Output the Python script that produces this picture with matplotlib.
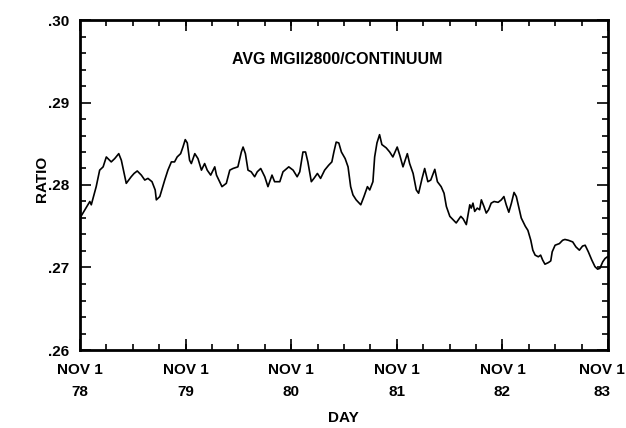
import numpy as np
import matplotlib
matplotlib.use('Agg')
import matplotlib.pyplot as plt
from matplotlib.ticker import FixedLocator
from matplotlib.transforms import ScaledTranslation

# days since 1 Nov 1978
days = [0, 34, 39, 56, 68, 80, 91, 108, 120, 134, 143, 160, 177, 187, 198, 212,
        224, 235, 249, 260, 264, 276, 293, 304, 316, 327, 336, 348, 356, 364, 371,
        379, 385, 397, 408, 420, 431, 440, 452, 466, 472, 483, 491, 506, 518, 529,
        546, 558, 564, 572, 581, 592, 604, 613, 625, 639, 650, 664, 673, 691, 702,
        722, 737, 751, 760, 771, 780, 788, 800, 809, 821, 832, 846, 860, 871, 878,
        886, 895, 904, 917, 927, 936, 944, 955, 971, 982, 994, 1002, 1013, 1019,
        1027, 1036, 1044, 1059, 1071, 1082, 1097, 1106, 1117, 1132, 1140, 1152,
        1163, 1171, 1183, 1192, 1203, 1213, 1227, 1236, 1249, 1259, 1267, 1279,
        1290, 1301, 1317, 1325, 1336, 1348, 1353, 1359, 1365, 1374, 1382, 1388,
        1397, 1405, 1413, 1422, 1432, 1446, 1457, 1466, 1474, 1483, 1492, 1501,
        1509, 1517, 1526, 1540, 1549, 1559, 1566, 1574, 1585, 1593, 1600, 1608,
        1620, 1628, 1633, 1643, 1658, 1669, 1677, 1689, 1704, 1715, 1727, 1738,
        1747, 1758, 1770, 1781, 1790, 1798, 1808, 1816, 1824]

ratio = [.2760, .2780, .2776, .2798, .2818, .2822, .2834, .2828, .2832, .2838,
         .2830, .2802, .2810, .2814, .2817, .2812, .2806, .2808, .2804, .2794,
         .2782, .2786, .2806, .2818, .2828, .2828, .2834, .2838, .2846, .2855,
         .2851, .2830, .2826, .2838, .2832, .2818, .2826, .2818, .2812, .2822,
         .2812, .2804, .2798, .2802, .2818, .2820, .2822, .2840, .2846, .2838,
         .2818, .2816, .2810, .2816, .2820, .2810, .2798, .2812, .2804, .2804,
         .2816, .2822, .2818, .2810, .2816, .2840, .2840, .2828, .2804, .2808,
         .2814, .2808, .2818, .2824, .2828, .2840, .2852, .2851, .2840, .2832,
         .2822, .2798, .2788, .2782, .2776, .2786, .2798, .2794, .2804, .2834,
         .2851, .2861, .2849, .2845, .2840, .2834, .2846, .2836, .2822, .2838,
         .2826, .2814, .2794, .2790, .2808, .2820, .2804, .2806, .2819, .2804,
         .2798, .2790, .2774, .2762, .2758, .2754, .2762, .2759, .2752, .2776,
         .2772, .2778, .2768, .2772, .2770, .2782, .2774, .2766, .2770, .2778,
         .2780, .2779, .2782, .2786, .2776, .2767, .2778, .2791, .2786, .2774,
         .2760, .2750, .2745, .2733, .2721, .2715, .2713, .2715, .2709, .2704,
         .2706, .2708, .2719, .2727, .2729, .2733, .2734, .2733, .2731, .2725,
         .2721, .2726, .2727, .2719, .2709, .2701, .2698, .2699, .2707, .2711,
         .2713]

year_ticks = [0, 365, 731, 1096, 1461, 1826]
year_labels = ['NOV 1\n78', 'NOV 1\n79', 'NOV 1\n80', 'NOV 1\n81', 'NOV 1\n82', 'NOV 1\n83']
ratio_ticks = [.26, .27, .28, .29, .30]
ratio_labels = ['.26', '.27', '.28', '.29', '.30']

plt.rcParams['font.family'] = ['Liberation Sans', 'DejaVu Sans']
plt.rcParams['font.weight'] = 'bold'

fig = plt.figure(figsize=(6.26, 4.28), dpi=100)
ax = fig.add_axes([80 / 626, 1 - 350 / 428, 528 / 626, 330 / 428])

ax.plot(days, ratio, color='black', lw=1.2)

ax.set_xlim(0, 1826)
ax.set_ylim(.26, .30)

ax.xaxis.set_major_locator(FixedLocator(year_ticks))
ax.xaxis.set_minor_locator(FixedLocator(np.linspace(0, 1826, 21)))
ax.set_xticklabels(year_labels, fontsize=11, fontweight='bold', linespacing=1.75)
ax.yaxis.set_major_locator(FixedLocator(ratio_ticks))
ax.yaxis.set_minor_locator(FixedLocator(np.linspace(.26, .30, 21)))
ax.set_yticklabels(ratio_labels, fontsize=11, fontweight='bold')

ax.tick_params(which='both', direction='in', top=True, right=True, width=1.2)
ax.tick_params(which='major', length=8)
ax.tick_params(axis='x', which='major', pad=9)
ax.tick_params(axis='y', which='major', pad=8)
ax.tick_params(which='minor', length=4)
for s in ax.spines.values():
    s.set_linewidth(2)

# last date label sits a bit inside the figure edge
last = ax.get_xticklabels()[-1]
last.set_transform(last.get_transform() + ScaledTranslation(-6 / 100, 0, fig.dpi_scale_trans))

ax.set_xlabel('DAY', fontsize=11, fontweight='bold', va='center')
ax.xaxis.set_label_coords(0.498, -0.206)
ax.set_ylabel('RATIO', fontsize=11, fontweight='bold', va='center')
ax.yaxis.set_label_coords(-0.072, 0.52)
ax.text(0.487, 0.879, 'AVG MGII2800/CONTINUUM', transform=ax.transAxes,
        ha='center', va='center', fontsize=11.5, fontweight='bold')

fig.savefig('out.png', dpi=100, facecolor='white')
